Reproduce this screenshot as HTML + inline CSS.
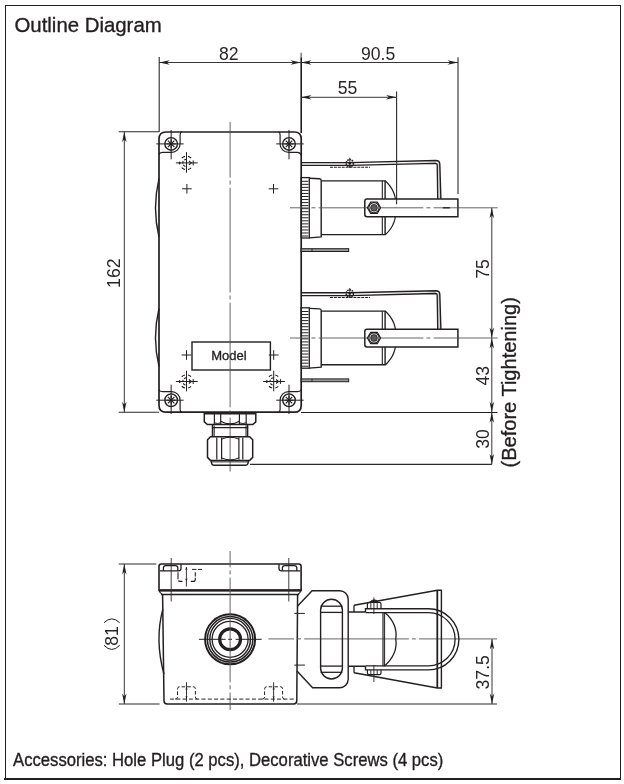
<!DOCTYPE html>
<html><head><meta charset="utf-8"><style>
html,body{margin:0;padding:0;background:#fff;}
svg{display:block;will-change:transform;}
text{font-family:"Liberation Sans",sans-serif;fill:#2a2627;stroke:none;}
text.tt{fill:#231f20;stroke:#231f20;stroke-width:0.35px;}
g.m{stroke-linecap:butt;}
.cl{stroke-dasharray:104.7 3 4 3.2;stroke:#555;}
.e{stroke:#2e2a2b;}
</style></head><body>
<svg width="624" height="784" viewBox="0 0 624 784">
<g class="m" stroke="#231f20">
<line x1="5" y1="5.5" x2="621" y2="5.5" stroke-width="1" />
<line x1="5.5" y1="5" x2="5.5" y2="779" stroke-width="1" />
<line x1="620.5" y1="5" x2="620.5" y2="779" stroke-width="1" />
<line x1="4" y1="779" x2="621" y2="779" stroke-width="2" />
<text x="14.5" y="31.6" font-size="20.5" text-anchor="start" textLength="147.2" lengthAdjust="spacingAndGlyphs" class="tt">Outline Diagram</text>
<text x="13.1" y="765.8" font-size="18" text-anchor="start" textLength="430.2" lengthAdjust="spacingAndGlyphs" class="tt">Accessories: Hole Plug (2 pcs), Decorative Screws (4 pcs)</text>
<line x1="159.2" y1="57" x2="159.2" y2="132" stroke-width="1.1" class="e"/>
<line x1="301.1" y1="52.7" x2="301.1" y2="57.2" stroke-width="0.9" class="e"/>
<line x1="301.2" y1="57.2" x2="301.2" y2="133" stroke-width="1.6" />
<line x1="159.2" y1="62.5" x2="301" y2="62.5" stroke-width="0.9" />
<path d="M159.2,62.5 L169.7,60.25 L166.76,62.5 L169.7,64.75 Z" fill="#231f20" stroke="none"/>
<path d="M301,62.5 L290.5,64.75 L293.44,62.5 L290.5,60.25 Z" fill="#231f20" stroke="none"/>
<text x="228.8" y="59.7" font-size="17.6" text-anchor="middle">82</text>
<line x1="301" y1="62.5" x2="458" y2="62.5" stroke-width="0.9" />
<path d="M301,62.5 L311.5,60.25 L308.56,62.5 L311.5,64.75 Z" fill="#231f20" stroke="none"/>
<path d="M458,62.5 L447.5,64.75 L450.44,62.5 L447.5,60.25 Z" fill="#231f20" stroke="none"/>
<line x1="458" y1="57.3" x2="458" y2="194" stroke-width="1.1" class="e"/>
<text x="378.1" y="59.7" font-size="17.6" text-anchor="middle">90.5</text>
<line x1="301" y1="97.3" x2="396.6" y2="97.3" stroke-width="0.9" />
<path d="M301,97.3 L311.5,95.05 L308.56,97.3 L311.5,99.55 Z" fill="#231f20" stroke="none"/>
<path d="M396.6,97.3 L386.1,99.55 L389.04,97.3 L386.1,95.05 Z" fill="#231f20" stroke="none"/>
<line x1="396.6" y1="91.5" x2="396.6" y2="204.3" stroke-width="1.1" class="e"/>
<text x="347.5" y="93.9" font-size="17.6" text-anchor="middle">55</text>
<line x1="118.7" y1="131.8" x2="159" y2="131.8" stroke-width="1.1" class="e"/>
<line x1="118.7" y1="412.2" x2="159" y2="412.2" stroke-width="1.1" class="e"/>
<line x1="124.3" y1="131.8" x2="124.3" y2="412.2" stroke-width="0.9" />
<path d="M124.3,131.8 L126.55,142.3 L124.3,139.36 L122.05,142.3 Z" fill="#231f20" stroke="none"/>
<path d="M124.3,412.2 L122.05,401.7 L124.3,404.64 L126.55,401.7 Z" fill="#231f20" stroke="none"/>
<text x="119.8" y="273.2" font-size="17.6" text-anchor="middle" transform="rotate(-90 119.8 273.2)">162</text>
<line x1="491.8" y1="207.8" x2="491.8" y2="464.4" stroke-width="0.9" />
<path d="M491.8,207.8 L494.05,218.3 L491.8,215.36 L489.55,218.3 Z" fill="#231f20" stroke="none"/>
<path d="M491.8,338 L489.55,327.5 L491.8,330.44 L494.05,327.5 Z" fill="#231f20" stroke="none"/>
<path d="M491.8,338 L494.05,348.5 L491.8,345.56 L489.55,348.5 Z" fill="#231f20" stroke="none"/>
<path d="M491.8,412.2 L489.55,401.7 L491.8,404.64 L494.05,401.7 Z" fill="#231f20" stroke="none"/>
<path d="M491.8,412.2 L494.05,422.7 L491.8,419.76 L489.55,422.7 Z" fill="#231f20" stroke="none"/>
<path d="M491.8,464.4 L489.55,453.9 L491.8,456.84 L494.05,453.9 Z" fill="#231f20" stroke="none"/>
<line x1="301" y1="412.5" x2="497.5" y2="412.5" stroke-width="1.0" />
<line x1="250" y1="464.4" x2="491.8" y2="464.4" stroke-width="1.1" class="e"/>
<text x="488.6" y="268.9" font-size="17.6" text-anchor="middle" transform="rotate(-90 488.6 268.9)">75</text>
<text x="489.4" y="375.7" font-size="17.6" text-anchor="middle" transform="rotate(-90 489.4 375.7)">43</text>
<text x="489.4" y="438.9" font-size="17.6" text-anchor="middle" transform="rotate(-90 489.4 438.9)">30</text>
<text x="516.3" y="382.3" font-size="20" text-anchor="middle" transform="rotate(-90 516.3 382.3)" textLength="170.4" lengthAdjust="spacingAndGlyphs" class="tt">(Before Tightening)</text>
<path d="M159,139 Q159,132 166,132 L294.4,132 Q301.2,132 301.2,138.8 L301.2,405.4 Q301.2,412.2 294.4,412.2 L166,412.2 Q159,412.2 159,405.2 Z" stroke-width="1.7" fill="none" />
<path d="M159,178.6 Q152,207.8 159,237" stroke-width="1.4" fill="none" />
<path d="M159,308.5 Q152,337.6 159,366.7" stroke-width="1.4" fill="none" />
<circle cx="171.15" cy="143.9" r="6.3" stroke-width="1.4" fill="none"/>
<line x1="166.55" y1="143.9" x2="175.75" y2="143.9" stroke-width="1.15" />
<line x1="167.9" y1="140.65" x2="174.4" y2="147.15" stroke-width="1.15" />
<line x1="171.15" y1="139.3" x2="171.15" y2="148.5" stroke-width="1.15" />
<line x1="174.4" y1="140.65" x2="167.9" y2="147.15" stroke-width="1.15" />
<line x1="156.35" y1="143.9" x2="183.65" y2="143.9" stroke-width="1.0" />
<line x1="171.15" y1="130" x2="171.15" y2="159.3" stroke-width="1.0" />
<circle cx="289" cy="143.9" r="6.3" stroke-width="1.4" fill="none"/>
<line x1="284.4" y1="143.9" x2="293.6" y2="143.9" stroke-width="1.15" />
<line x1="285.75" y1="140.65" x2="292.25" y2="147.15" stroke-width="1.15" />
<line x1="289" y1="139.3" x2="289" y2="148.5" stroke-width="1.15" />
<line x1="292.25" y1="140.65" x2="285.75" y2="147.15" stroke-width="1.15" />
<line x1="276.2" y1="143.9" x2="303.7" y2="143.9" stroke-width="1.0" />
<line x1="289" y1="130" x2="289" y2="159.3" stroke-width="1.0" />
<circle cx="171.15" cy="400.2" r="6.3" stroke-width="1.4" fill="none"/>
<line x1="166.55" y1="400.2" x2="175.75" y2="400.2" stroke-width="1.15" />
<line x1="167.9" y1="396.95" x2="174.4" y2="403.45" stroke-width="1.15" />
<line x1="171.15" y1="395.6" x2="171.15" y2="404.8" stroke-width="1.15" />
<line x1="174.4" y1="396.95" x2="167.9" y2="403.45" stroke-width="1.15" />
<line x1="156.35" y1="400.2" x2="183.65" y2="400.2" stroke-width="1.0" />
<line x1="171.15" y1="384.7" x2="171.15" y2="414" stroke-width="1.0" />
<circle cx="289" cy="400.2" r="6.3" stroke-width="1.4" fill="none"/>
<line x1="284.4" y1="400.2" x2="293.6" y2="400.2" stroke-width="1.15" />
<line x1="285.75" y1="396.95" x2="292.25" y2="403.45" stroke-width="1.15" />
<line x1="289" y1="395.6" x2="289" y2="404.8" stroke-width="1.15" />
<line x1="292.25" y1="396.95" x2="285.75" y2="403.45" stroke-width="1.15" />
<line x1="276.2" y1="400.2" x2="303.7" y2="400.2" stroke-width="1.0" />
<line x1="289" y1="384.7" x2="289" y2="414" stroke-width="1.0" />
<path d="M181.6,131.8 Q180.1,132.5 180.1,135 L180.1,143.9 A8.5,8.5 0 0 1 171.6,152.3 L162.5,152.3 Q159.5,152.6 158.8,154.5" stroke-width="1.2" fill="none" />
<path d="M278.6,131.8 Q280.1,132.5 280.1,135 L280.1,143.9 A8.5,8.5 0 0 0 288.6,152.4 L297.5,152.4 Q300.5,152.7 301.2,155" stroke-width="1.2" fill="none" />
<path d="M158.8,389.6 Q159.5,391.5 162.5,391.7 L171.6,391.7 A8.5,8.5 0 0 1 180.1,400.2 L180.1,409.5 Q180.1,411.5 181.6,412.2" stroke-width="1.2" fill="none" />
<path d="M301.2,389.6 Q300.5,391.5 297.5,391.7 L288.6,391.7 A8.5,8.5 0 0 0 280.1,400.2 L280.1,409.5 Q280.1,411.5 278.6,412.2" stroke-width="1.2" fill="none" />
<line x1="182.1" y1="188.8" x2="191.7" y2="188.8" stroke-width="1.0" />
<line x1="186.9" y1="184" x2="186.9" y2="193.6" stroke-width="1.0" />
<line x1="268.7" y1="188.8" x2="278.3" y2="188.8" stroke-width="1.0" />
<line x1="273.5" y1="184" x2="273.5" y2="193.6" stroke-width="1.0" />
<line x1="181.7" y1="355" x2="191.3" y2="355" stroke-width="1.0" />
<line x1="186.5" y1="350.2" x2="186.5" y2="359.8" stroke-width="1.0" />
<line x1="268.9" y1="355" x2="278.5" y2="355" stroke-width="1.0" />
<line x1="273.7" y1="350.2" x2="273.7" y2="359.8" stroke-width="1.0" />
<path d="M191.07,167.8 A6.7,6.7 0 0 1 188.01,169.43" stroke-width="1.1" fill="none"/>
<path d="M184.99,169.43 A6.7,6.7 0 0 1 181.76,167.64" stroke-width="1.1" fill="none"/>
<path d="M181.76,158.16 A6.7,6.7 0 0 1 184.99,156.37" stroke-width="1.1" fill="none"/>
<path d="M188.01,156.37 A6.7,6.7 0 0 1 191.07,158" stroke-width="1.1" fill="none"/>
<line x1="175.9" y1="162.9" x2="197.7" y2="162.9" stroke-width="1.0" />
<line x1="186.5" y1="152.1" x2="186.5" y2="172.7" stroke-width="1.0" />
<ellipse cx="179.6" cy="162.9" rx="0.9" ry="1.5" fill="#231f20" stroke="none"/>
<path d="M188.9,160.9 L191.3,162.9 L188.9,164.9" stroke-width="1.1" fill="none"/>
<line x1="193.2" y1="160.4" x2="193.2" y2="165.4" stroke-width="1.0" />
<path d="M186.5,159.2 A3.7,3.7 0 0 0 186.5,166.6" stroke-width="1.1" fill="none" stroke-dasharray="2.6 1.2"/>
<path d="M191.07,386.4 A6.7,6.7 0 0 1 188.01,388.03" stroke-width="1.1" fill="none"/>
<path d="M184.99,388.03 A6.7,6.7 0 0 1 181.76,386.24" stroke-width="1.1" fill="none"/>
<path d="M181.76,376.76 A6.7,6.7 0 0 1 184.99,374.97" stroke-width="1.1" fill="none"/>
<path d="M188.01,374.97 A6.7,6.7 0 0 1 191.07,376.6" stroke-width="1.1" fill="none"/>
<line x1="175.9" y1="381.5" x2="197.7" y2="381.5" stroke-width="1.0" />
<line x1="186.5" y1="370.7" x2="186.5" y2="391.3" stroke-width="1.0" />
<ellipse cx="179.6" cy="381.5" rx="0.9" ry="1.5" fill="#231f20" stroke="none"/>
<path d="M188.9,379.5 L191.3,381.5 L188.9,383.5" stroke-width="1.1" fill="none"/>
<line x1="193.2" y1="379" x2="193.2" y2="384" stroke-width="1.0" />
<path d="M186.5,377.8 A3.7,3.7 0 0 0 186.5,385.2" stroke-width="1.1" fill="none" stroke-dasharray="2.6 1.2"/>
<path d="M278.27,386.4 A6.7,6.7 0 0 1 275.21,388.03" stroke-width="1.1" fill="none"/>
<path d="M272.19,388.03 A6.7,6.7 0 0 1 268.96,386.24" stroke-width="1.1" fill="none"/>
<path d="M268.96,376.76 A6.7,6.7 0 0 1 272.19,374.97" stroke-width="1.1" fill="none"/>
<path d="M275.21,374.97 A6.7,6.7 0 0 1 278.27,376.6" stroke-width="1.1" fill="none"/>
<line x1="263.1" y1="381.5" x2="284.9" y2="381.5" stroke-width="1.0" />
<line x1="273.7" y1="370.7" x2="273.7" y2="391.3" stroke-width="1.0" />
<ellipse cx="266.8" cy="381.5" rx="0.9" ry="1.5" fill="#231f20" stroke="none"/>
<path d="M276.1,379.5 L278.5,381.5 L276.1,383.5" stroke-width="1.1" fill="none"/>
<line x1="280.4" y1="379" x2="280.4" y2="384" stroke-width="1.0" />
<path d="M273.7,377.8 A3.7,3.7 0 0 0 273.7,385.2" stroke-width="1.1" fill="none" stroke-dasharray="2.6 1.2"/>
<rect x="192" y="342" width="78.4" height="28" stroke-width="1.4" fill="none"/>
<text x="229" y="360.2" font-size="13" text-anchor="middle" class="tt">Model</text>
<line x1="230.1" y1="122" x2="230.1" y2="471.5" stroke-width="0.9" class="cl" stroke-dashoffset="49.1"/>
<line x1="204.3" y1="413.6" x2="255.8" y2="413.6" stroke-width="1.6" />
<path d="M204.3,412.2 L204.3,421.8 L207.4,424.6 L252.7,424.6 L255.8,421.8 L255.8,412.2" stroke-width="1.5" fill="none" />
<line x1="214.4" y1="413.5" x2="214.4" y2="424.3" stroke-width="1.2" />
<line x1="220.7" y1="413.5" x2="220.7" y2="424.3" stroke-width="1.2" />
<line x1="239.4" y1="413.5" x2="239.4" y2="424.3" stroke-width="1.2" />
<line x1="246.2" y1="413.5" x2="246.2" y2="424.3" stroke-width="1.2" />
<path d="M220.7,421.3 Q230,426.5 239.4,421.3" stroke-width="1.1" fill="none" />
<path d="M214.4,422.8 Q217.5,424.2 220.7,422.8 M239.4,422.8 Q242.8,424.2 246.2,422.8" stroke-width="1.0" fill="none" />
<path d="M212.5,424.6 L212.5,436.6 M247.6,424.6 L247.6,436.6" stroke-width="1.5" fill="none" />
<line x1="214.2" y1="425.5" x2="214.2" y2="436.5" stroke-width="1.0" />
<line x1="246" y1="425.5" x2="246" y2="436.5" stroke-width="1.0" />
<line x1="212.5" y1="427.6" x2="247.6" y2="427.6" stroke-width="1.2" />
<path d="M210.5,436.7 L249.7,436.7 L252.7,439.7 L252.7,457.4 L249.7,460.4 L210.5,460.4 L207.5,457.4 L207.5,439.7 Z" stroke-width="1.5" fill="none" />
<path d="M216.8,437.5 L216.8,459.6 M221.6,437.5 L221.6,459.6 M238.9,437.5 L238.9,459.6 M242.8,437.5 L242.8,459.6" stroke-width="1.2" fill="none" />
<path d="M221.6,439.2 Q230.2,435.2 238.9,439.2 M221.6,457.9 Q230.2,461.9 238.9,457.9" stroke-width="1.0" fill="none" />
<path d="M211,460.4 L211.6,463.3 Q212,465.2 214,465.2 L245.6,465.2 Q247.6,465.2 248,463.3 L248.6,460.4" stroke-width="1.5" fill="none" />
<line x1="212" y1="461.9" x2="248" y2="461.9" stroke-width="0.9" />
<path d="M301.2,164 L350,164 L436.5,161.9 L437.7,199.1 L440.9,199.1 L439.8,163 Z" stroke-width="0" fill="#d4d4d4" stroke="none"/>
<path d="M301.2,162.6 L350,162.6 L435.8,160.5 Q439.6,160.5 439.8,164 L440.9,199.1" stroke-width="1.4" fill="none" />
<path d="M301.2,165.4 L350,165.4 L435.5,163.3 Q437.2,163.3 437.2,165 L437.7,199.1" stroke-width="1.3" fill="none" />
<circle cx="349.8" cy="163.2" r="3.6" stroke-width="1.5" fill="none" stroke-dasharray="1.6 0.7"/>
<circle cx="349.8" cy="163.2" r="1.3" fill="#231f20" stroke="none"/>
<line x1="349.8" y1="157.8" x2="349.8" y2="167.6" stroke-width="0.9" />
<line x1="330" y1="167.3" x2="370" y2="167.3" stroke-width="1.1" stroke-dasharray="3 0.9"/>
<rect x="301.2" y="177.6" width="8.1" height="60.4" stroke-width="1.3" fill="none"/>
<line x1="302" y1="181.3" x2="308.4" y2="181.3" stroke-width="1.0" />
<line x1="302" y1="184.34" x2="308.4" y2="184.34" stroke-width="1.0" />
<line x1="302" y1="187.38" x2="308.4" y2="187.38" stroke-width="1.0" />
<line x1="302" y1="190.42" x2="308.4" y2="190.42" stroke-width="1.0" />
<line x1="302" y1="193.46" x2="308.4" y2="193.46" stroke-width="1.0" />
<line x1="302" y1="196.5" x2="308.4" y2="196.5" stroke-width="1.0" />
<line x1="302" y1="199.54" x2="308.4" y2="199.54" stroke-width="1.0" />
<line x1="302" y1="202.58" x2="308.4" y2="202.58" stroke-width="1.0" />
<line x1="302" y1="205.62" x2="308.4" y2="205.62" stroke-width="1.0" />
<line x1="302" y1="208.66" x2="308.4" y2="208.66" stroke-width="1.0" />
<line x1="302" y1="211.7" x2="308.4" y2="211.7" stroke-width="1.0" />
<line x1="302" y1="214.74" x2="308.4" y2="214.74" stroke-width="1.0" />
<line x1="302" y1="217.78" x2="308.4" y2="217.78" stroke-width="1.0" />
<line x1="302" y1="220.82" x2="308.4" y2="220.82" stroke-width="1.0" />
<line x1="302" y1="223.86" x2="308.4" y2="223.86" stroke-width="1.0" />
<line x1="302" y1="226.9" x2="308.4" y2="226.9" stroke-width="1.0" />
<line x1="302" y1="229.94" x2="308.4" y2="229.94" stroke-width="1.0" />
<line x1="302" y1="232.98" x2="308.4" y2="232.98" stroke-width="1.0" />
<line x1="302" y1="236.02" x2="308.4" y2="236.02" stroke-width="1.0" />
<path d="M309.3,178.2 L319.6,178.7 Q321.2,178.8 321.2,180.6 L321.2,236.9 L309.3,237.9" stroke-width="1.4" fill="none" />
<path d="M321.2,180.9 L385.1,180.9 L385.1,234.6 L321.2,234.6" stroke-width="1.4" fill="none" />
<line x1="382.3" y1="181" x2="382.3" y2="234.6" stroke-width="1.1" />
<path d="M385.2,180.8 Q397.5,192 395.4,207.8 Q397.5,223.5 385.2,234.8" stroke-width="1.2" fill="none" />
<line x1="290" y1="207.8" x2="497.7" y2="207.8" stroke-width="0.9" class="cl" stroke-dashoffset="86.2"/>
<path d="M457.9,199.1 L367,199.1 Q364.8,199.1 364.8,201.3 L364.8,214.5 Q364.8,216.7 367,216.7 L457.9,216.7 Z" stroke-width="1.5" fill="#fff" />
<line x1="365" y1="207.8" x2="457.9" y2="207.8" stroke-width="0.9" class="cl" stroke-dashoffset="46.3"/>
<line x1="442.8" y1="207.8" x2="449.9" y2="207.8" stroke-width="1.3" />
<polygon points="380.6,207.8 377.3,213.52 370.7,213.52 367.4,207.8 370.7,202.08 377.3,202.08" stroke-width="1.2" fill="#fff"/>
<circle cx="374" cy="207.8" r="5.1" stroke-width="1.1" fill="none"/>
<circle cx="374" cy="207.8" r="3.4" stroke-width="0.8" fill="#5a5a5a"/>
<rect x="301.2" y="248.7" width="47.5" height="2.8" stroke-width="1.0" fill="#9a9a9a"/>
<line x1="312" y1="248.7" x2="312" y2="251.5" stroke-width="0.9" />
<path d="M301.2,294.2 L350,294.2 L436.5,292.1 L437.7,329.3 L440.9,329.3 L439.8,293.2 Z" stroke-width="0" fill="#d4d4d4" stroke="none"/>
<path d="M301.2,292.8 L350,292.8 L435.8,290.7 Q439.6,290.7 439.8,294.2 L440.9,329.3" stroke-width="1.4" fill="none" />
<path d="M301.2,295.6 L350,295.6 L435.5,293.5 Q437.2,293.5 437.2,295.2 L437.7,329.3" stroke-width="1.3" fill="none" />
<circle cx="349.8" cy="293.4" r="3.6" stroke-width="1.5" fill="none" stroke-dasharray="1.6 0.7"/>
<circle cx="349.8" cy="293.4" r="1.3" fill="#231f20" stroke="none"/>
<line x1="349.8" y1="288" x2="349.8" y2="297.8" stroke-width="0.9" />
<line x1="330" y1="297.5" x2="370" y2="297.5" stroke-width="1.1" stroke-dasharray="3 0.9"/>
<rect x="301.2" y="307.8" width="8.1" height="60.4" stroke-width="1.3" fill="none"/>
<line x1="302" y1="311.5" x2="308.4" y2="311.5" stroke-width="1.0" />
<line x1="302" y1="314.54" x2="308.4" y2="314.54" stroke-width="1.0" />
<line x1="302" y1="317.58" x2="308.4" y2="317.58" stroke-width="1.0" />
<line x1="302" y1="320.62" x2="308.4" y2="320.62" stroke-width="1.0" />
<line x1="302" y1="323.66" x2="308.4" y2="323.66" stroke-width="1.0" />
<line x1="302" y1="326.7" x2="308.4" y2="326.7" stroke-width="1.0" />
<line x1="302" y1="329.74" x2="308.4" y2="329.74" stroke-width="1.0" />
<line x1="302" y1="332.78" x2="308.4" y2="332.78" stroke-width="1.0" />
<line x1="302" y1="335.82" x2="308.4" y2="335.82" stroke-width="1.0" />
<line x1="302" y1="338.86" x2="308.4" y2="338.86" stroke-width="1.0" />
<line x1="302" y1="341.9" x2="308.4" y2="341.9" stroke-width="1.0" />
<line x1="302" y1="344.94" x2="308.4" y2="344.94" stroke-width="1.0" />
<line x1="302" y1="347.98" x2="308.4" y2="347.98" stroke-width="1.0" />
<line x1="302" y1="351.02" x2="308.4" y2="351.02" stroke-width="1.0" />
<line x1="302" y1="354.06" x2="308.4" y2="354.06" stroke-width="1.0" />
<line x1="302" y1="357.1" x2="308.4" y2="357.1" stroke-width="1.0" />
<line x1="302" y1="360.14" x2="308.4" y2="360.14" stroke-width="1.0" />
<line x1="302" y1="363.18" x2="308.4" y2="363.18" stroke-width="1.0" />
<line x1="302" y1="366.22" x2="308.4" y2="366.22" stroke-width="1.0" />
<path d="M309.3,308.4 L319.6,308.9 Q321.2,309 321.2,310.8 L321.2,367.1 L309.3,368.1" stroke-width="1.4" fill="none" />
<path d="M321.2,311.1 L385.1,311.1 L385.1,364.8 L321.2,364.8" stroke-width="1.4" fill="none" />
<line x1="382.3" y1="311.2" x2="382.3" y2="364.8" stroke-width="1.1" />
<path d="M385.2,311 Q397.5,322.2 395.4,338 Q397.5,353.7 385.2,365" stroke-width="1.2" fill="none" />
<line x1="290" y1="338" x2="497.7" y2="338" stroke-width="0.9" class="cl" stroke-dashoffset="86.2"/>
<path d="M457.9,329.3 L367,329.3 Q364.8,329.3 364.8,331.5 L364.8,344.7 Q364.8,346.9 367,346.9 L457.9,346.9 Z" stroke-width="1.5" fill="#fff" />
<line x1="365" y1="338" x2="457.9" y2="338" stroke-width="0.9" class="cl" stroke-dashoffset="46.3"/>
<polygon points="380.6,338 377.3,343.72 370.7,343.72 367.4,338 370.7,332.28 377.3,332.28" stroke-width="1.2" fill="#fff"/>
<circle cx="374" cy="338" r="5.1" stroke-width="1.1" fill="none"/>
<circle cx="374" cy="338" r="3.4" stroke-width="0.8" fill="#5a5a5a"/>
<rect x="301.2" y="378.9" width="47.5" height="2.8" stroke-width="1.0" fill="#9a9a9a"/>
<line x1="312" y1="378.9" x2="312" y2="381.7" stroke-width="0.9" />
<line x1="396.6" y1="199" x2="396.6" y2="204.3" stroke-width="1.1" class="e"/>
<line x1="118.8" y1="564" x2="156.3" y2="564" stroke-width="1.1" class="e"/>
<line x1="118.8" y1="704" x2="159.6" y2="704" stroke-width="1.1" class="e"/>
<line x1="124.3" y1="564" x2="124.3" y2="704" stroke-width="0.9" />
<path d="M124.3,564 L126.55,574.5 L124.3,571.56 L122.05,574.5 Z" fill="#231f20" stroke="none"/>
<path d="M124.3,704 L122.05,693.5 L124.3,696.44 L126.55,693.5 Z" fill="#231f20" stroke="none"/>
<text x="118.4" y="636" font-size="17.6" text-anchor="middle" transform="rotate(-90 118.4 636)">81</text>
<path d="M104,645.3 Q111.8,653.6 119.7,645.3" stroke-width="1.0" fill="none" />
<path d="M104,622.7 Q111.8,615 119.7,622.7" stroke-width="1.0" fill="none" />
<line x1="297" y1="704" x2="497" y2="704" stroke-width="1.1" class="e"/>
<line x1="492" y1="639" x2="492" y2="704" stroke-width="0.9" />
<path d="M492,639 L494.25,649.5 L492,646.56 L489.75,649.5 Z" fill="#231f20" stroke="none"/>
<path d="M492,704 L489.75,693.5 L492,696.44 L494.25,693.5 Z" fill="#231f20" stroke="none"/>
<text x="488.9" y="672.3" font-size="17.6" text-anchor="middle" transform="rotate(-90 488.9 672.3)">37.5</text>
<path d="M159,566.3 Q159,564 161.3,564 L298.8,564 Q301.1,564 301.1,566.3 L301.1,590.4 L159,590.4 Z" stroke-width="1.6" fill="none" />
<line x1="159" y1="590.4" x2="301.1" y2="590.4" stroke-width="2.4" />
<line x1="161" y1="594.5" x2="299.2" y2="594.5" stroke-width="1.3" />
<path d="M159.2,590.6 Q160,593.6 162.6,594.5 M300.9,590.6 Q300.1,593.6 297.5,594.5" stroke-width="1.2" fill="none" />
<path d="M159.8,570.9 L178.6,570.9 Q181,570.9 181,568.6 L181,564" stroke-width="1.3" fill="none" />
<path d="M163.4,570.9 L163.4,568 Q163.4,565.6 165.8,565.6 L175.5,565.6 Q177.8,565.6 177.8,568 L177.8,570.9" stroke-width="1.3" fill="none" />
<path d="M300.3,570.9 L281.4,570.9 Q279,570.9 279,568.6 L279,564" stroke-width="1.3" fill="none" />
<path d="M296.8,570.9 L296.8,568 Q296.8,565.6 294.4,565.6 L284.8,565.6 Q282.4,565.6 282.4,568 L282.4,570.9" stroke-width="1.3" fill="none" />
<line x1="171.2" y1="558" x2="171.2" y2="601.5" stroke-width="0.9" class="e"/>
<line x1="288.8" y1="558" x2="288.8" y2="601.5" stroke-width="0.9" class="e"/>
<path d="M178,572.2 L178,579.4 Q178,581.4 180,581.4 L182.5,581.4 M190.8,581.4 L193.3,581.4 Q195.3,581.4 195.3,579.4 L195.3,572.2" stroke-width="1.1" fill="none" stroke-dasharray="7 1.3"/>
<line x1="186.4" y1="567" x2="186.4" y2="586.6" stroke-width="0.9" />
<path d="M186.4,567 L187.6,570 L186.4,569.16 L185.2,570 Z" fill="#231f20" stroke="none"/>
<path d="M186.4,581.4 L185.2,578.4 L186.4,579.24 L187.6,578.4 Z" fill="#231f20" stroke="none"/>
<line x1="192" y1="569.4" x2="202.5" y2="569.4" stroke-width="1.0" stroke-dasharray="4.5 1.5 4"/>
<path d="M162.6,594.8 L164,700.8 Q164,704 167.2,704 L293.6,704 Q296.8,704 296.8,700.8 L297.6,594.8" stroke-width="1.5" fill="none" />
<path d="M162.8,609.4 Q154.6,640 164,674.3" stroke-width="1.4" fill="none" />
<circle cx="230.1" cy="639.3" r="25.0" stroke-width="2.0" fill="none"/>
<circle cx="230.1" cy="639.3" r="22.7" stroke-width="1.5" fill="none"/>
<ellipse cx="230.1" cy="639.3" rx="20.3" ry="20.9" stroke-width="1.4" fill="none"/>
<circle cx="230.1" cy="639.3" r="18.0" stroke-width="1.3" fill="none"/>
<circle cx="230.1" cy="639.3" r="10.4" stroke-width="3.2" fill="none"/>
<line x1="198.9" y1="639.3" x2="261.7" y2="639.3" stroke-width="1.0" stroke-dasharray="26.7 2.6 3.8 3.6 40"/>
<line x1="230.1" y1="551.1" x2="230.1" y2="710" stroke-width="0.9" class="cl" stroke-dashoffset="88.4"/>
<line x1="268.4" y1="638.9" x2="497" y2="638.9" stroke-width="0.9" class="cl" stroke-dashoffset="79.1"/>
<line x1="170" y1="699.1" x2="294" y2="699.1" stroke-width="1.0" stroke-dasharray="4 2.3"/>
<path d="M175.0,699.1 Q177.5,699.1 177.5,697.1 L177.5,688.8 Q177.5,686.8 179.5,686.8 L193.4,686.8 Q195.4,686.8 195.4,688.8 L195.4,697.1 Q195.4,699.1 197.9,699.1" stroke-width="1.0" fill="none" stroke-dasharray="3.6 2"/>
<line x1="186.5" y1="682.3" x2="186.5" y2="701.7" stroke-width="0.9" />
<path d="M186.5,686.8 L187.7,689.8 L186.5,688.96 L185.3,689.8 Z" fill="#231f20" stroke="none"/>
<path d="M186.5,699.1 L185.3,696.1 L186.5,696.94 L187.7,696.1 Z" fill="#231f20" stroke="none"/>
<path d="M262.1,699.1 Q264.6,699.1 264.6,697.1 L264.6,688.8 Q264.6,686.8 266.6,686.8 L280.6,686.8 Q282.6,686.8 282.6,688.8 L282.6,697.1 Q282.6,699.1 285.1,699.1" stroke-width="1.0" fill="none" stroke-dasharray="3.6 2"/>
<line x1="273.6" y1="682.3" x2="273.6" y2="701.7" stroke-width="0.9" />
<path d="M273.6,686.8 L274.8,689.8 L273.6,688.96 L272.4,689.8 Z" fill="#231f20" stroke="none"/>
<path d="M273.6,699.1 L272.4,696.1 L273.6,696.94 L274.8,696.1 Z" fill="#231f20" stroke="none"/>
<path d="M297.2,606.6 L312.1,590.8 L339.7,590.8 A8.5,8.5 0 0 1 348.2,599.3 L348.2,679.2 A8.5,8.5 0 0 1 339.7,687.7 L312.6,687.7 L297,670.9" stroke-width="1.4" fill="none" />
<path d="M320.6,610.1 A10.9,10.9 0 0 1 342.4,610.1 L342.4,668.1 A10.9,10.9 0 0 1 320.6,668.1 Z" stroke-width="1.4" fill="none" />
<line x1="320.6" y1="606.2" x2="342.4" y2="606.2" stroke-width="1.3" />
<line x1="320.6" y1="612.4" x2="342.4" y2="612.4" stroke-width="1.3" />
<line x1="320.6" y1="666.1" x2="342.4" y2="666.1" stroke-width="1.3" />
<line x1="320.6" y1="672.3" x2="342.4" y2="672.3" stroke-width="1.3" />
<line x1="294.3" y1="613.4" x2="304.9" y2="613.4" stroke-width="1.0" />
<line x1="294.3" y1="665.1" x2="304.9" y2="665.1" stroke-width="1.0" />
<path d="M348.2,612 L365.5,612 M348.2,666.3 L365.5,666.3" stroke-width="1.4" fill="none" />
<path d="M354,605.2 L354,612 M354,666.3 L354,672.8" stroke-width="1.3" fill="none" />
<path d="M354,605.2 L437.3,590.2 L441.4,590.2 L441.4,688 L437.3,688 L354,672.8" stroke-width="1.4" fill="none" />
<line x1="437.3" y1="590.2" x2="437.3" y2="688" stroke-width="1.8" />
<line x1="383" y1="612" x2="383" y2="666.3" stroke-width="1.2" />
<line x1="384.6" y1="612" x2="384.6" y2="666.3" stroke-width="1.0" />
<path d="M384.6,612.3 Q398,624 395.8,639.2 Q398,654 384.6,666" stroke-width="1.3" fill="none" />
<path d="M367.4,608.7 L367.4,604 Q367.4,602.3 369,602.3 L379.3,602.3 Q381,602.3 381,604 L381,608.7" stroke-width="1.2" fill="none" />
<path d="M370,602.4 Q371,599.8 374.2,599.8 Q377.4,599.8 378.4,602.4 Z" stroke-width="0.8" fill="#231f20" />
<line x1="370.8" y1="603" x2="370.8" y2="608.5" stroke-width="0.9" />
<line x1="377.2" y1="603" x2="377.2" y2="608.5" stroke-width="0.9" />
<line x1="373.9" y1="597.5" x2="373.9" y2="614" stroke-width="0.9" />
<path d="M367.4,669.8 L367.4,673 Q367.4,674.7 369,674.7 L379.3,674.7 Q381,674.7 381,673 L381,669.8" stroke-width="1.2" fill="none" />
<line x1="370.8" y1="670" x2="370.8" y2="674.5" stroke-width="0.9" />
<line x1="377.2" y1="670" x2="377.2" y2="674.5" stroke-width="0.9" />
<line x1="373.9" y1="665" x2="373.9" y2="682" stroke-width="0.9" />
<path d="M365.5,612 L365.5,608.7 L428.3,608.7 A30.6,30.6 0 0 1 428.3,669.9 L365.5,669.9 L365.5,666.3" stroke-width="1.4" fill="none" />
<path d="M365.5,612.6 L428.5,612.6 A26.5,26.5 0 0 1 428.5,665.8 L365.5,665.8" stroke-width="1.3" fill="none" />
</g>
</svg>
</body></html>
